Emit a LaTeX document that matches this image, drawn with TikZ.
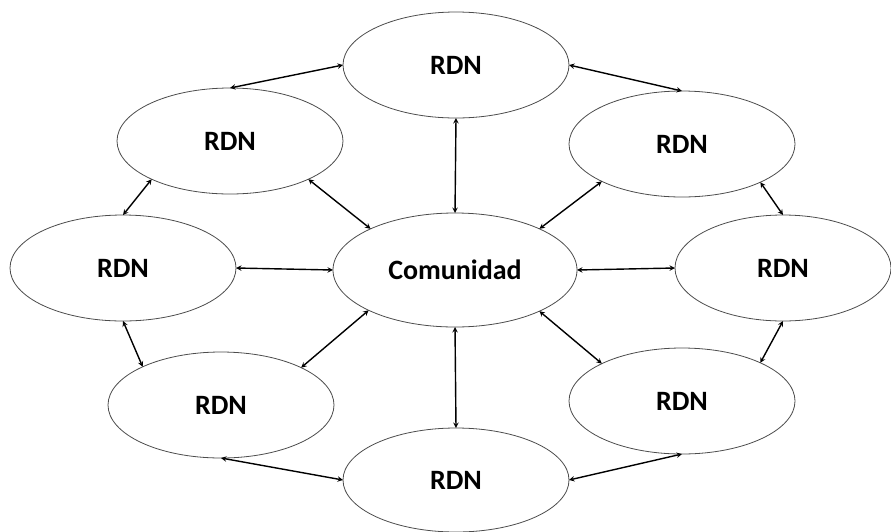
\documentclass[tikz,border=0pt]{standalone}
\usepackage{fontspec}
\setmainfont{Carlito}
\usetikzlibrary{shapes.geometric}

\begin{document}
\begin{tikzpicture}
	[x=1pt,y=-1pt,
	 red/.style={ellipse,draw=black!70,line width=0.8pt,inner sep=0,outer sep=0,
	             minimum width=226pt,minimum height=106pt,
	             font=\fontsize{28}{33}\selectfont\bfseries},
	 arrow/.style={<->,>=stealth,line width=1.4pt}]

	\path [use as bounding box] (0,0) rectangle (891,531);

	\node[red,minimum width=244pt,minimum height=114pt] (comunidad) at (455,270) {Comunidad};
	\node[red] (top)      at (456,65)  {RDN};
	\node[red] (topleft)  at (230,141) {RDN};
	\node[red] (topright) at (682,144) {RDN};
	\node[red] (left)     at (123,268) {RDN};
	\node[red,minimum width=216pt] (right) at (783,268) {RDN};
	\node[red] (botleft)  at (221,405) {RDN};
	\node[red] (botright) at (682,401) {RDN};
	\node[red,minimum height=104pt] (bottom) at (456,480) {RDN};

	\draw[arrow] (topleft.north)  -- (top.west);
	\draw[arrow] (top.east)       -- (topright.north);
	\draw[arrow] (topright.-26)   -- (right.north);
	\draw[arrow] (right.south)    -- (botright.26);
	\draw[arrow] (botright.south) -- (bottom.east);
	\draw[arrow] (bottom.west)    -- (botleft.south);
	\draw[arrow] (botleft.154)    -- (left.south);
	\draw[arrow] (left.north)     -- (topleft.206);

	\draw[arrow] (comunidad.north) -- (top.south);
	\draw[arrow] (comunidad.154)   -- (topleft.-26);
	\draw[arrow] (comunidad.26)    -- (topright.205);
	\draw[arrow] (comunidad.west)  -- (left.east);
	\draw[arrow] (comunidad.east)  -- (right.west);
	\draw[arrow] (comunidad.-26)   -- (botright.155);
	\draw[arrow] (comunidad.south) -- (bottom.north);
	\draw[arrow] (comunidad.205)   -- (botleft.25);
\end{tikzpicture}
\end{document}
